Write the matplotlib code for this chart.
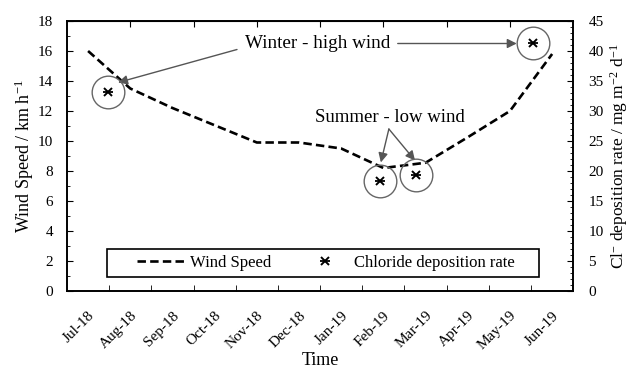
import numpy as np
import matplotlib.pyplot as plt
from matplotlib.ticker import MultipleLocator, FixedLocator
from matplotlib.lines import Line2D
from matplotlib.patches import Rectangle
from matplotlib.legend_handler import HandlerTuple

plt.rcParams['font.family'] = ['Liberation Serif', 'DejaVu Serif']
plt.rcParams['mathtext.fontset'] = 'custom'
plt.rcParams['mathtext.rm'] = 'Liberation Serif'
plt.rcParams['mathtext.it'] = 'Liberation Serif:italic'

# Monthly wind speed (km/h), one value per month
months = ['Jul-18', 'Aug-18', 'Sep-18', 'Oct-18', 'Nov-18', 'Dec-18',
          'Jan-19', 'Feb-19', 'Mar-19', 'Apr-19', 'May-19', 'Jun-19']
wind = [16.0, 13.5, 12.2, 11.05, 9.9, 9.9, 9.5, 8.2, 8.55, 10.25, 12.0, 15.8]

# Chloride deposition samples (position along the month axis, mg m-2 d-1)
cl_pos = [0.97, 7.42, 8.27, 11.04]
cl_rate = [33.2, 18.4, 19.3, 41.4]

x = np.arange(len(months)) + 0.5

fig = plt.figure(figsize=(6.32, 3.75), dpi=100)
ax = fig.add_axes([0.106, 0.224, 0.801, 0.72])
ax2 = ax.twinx()

dash = (0, (3.2, 1.6))
ax.plot(x, wind, color='black', lw=1.9, ls=dash)

# circled points on the right axis
ax2.plot(cl_pos, cl_rate, ls='none', marker='o', ms=23.5, mfc='none',
         mec='#666666', mew=1.0)
ax2.plot(cl_pos, cl_rate, ls='none', marker='x', ms=5.5, color='black', mew=1.4)
ax2.plot(cl_pos, cl_rate, ls='none', marker='_', ms=6.5, color='black', mew=1.3)

ax.set_xlim(0, 12)
ax.set_ylim(0, 18)
ax2.set_ylim(0, 45)

# labels centred on months, tick marks between them
ax.xaxis.set_major_locator(FixedLocator(x))
ax.set_xticklabels(months, rotation=45, ha='right', rotation_mode='anchor')
ax.xaxis.set_minor_locator(FixedLocator(np.arange(1, 12)))
ax.tick_params(axis='x', which='major', length=0, pad=13, labelsize=11)
ax.tick_params(axis='x', which='minor', length=4, direction='in')

ax.yaxis.set_major_locator(MultipleLocator(2))
ax.yaxis.set_minor_locator(MultipleLocator(1))
ax.tick_params(axis='y', which='major', length=4, direction='in', labelsize=11, pad=10)
ax.tick_params(axis='y', which='minor', length=2.5, direction='in')

ax2.yaxis.set_major_locator(MultipleLocator(5))
ax2.yaxis.set_minor_locator(MultipleLocator(1))
ax2.tick_params(axis='y', which='major', length=4, direction='in', labelsize=11, pad=11)
ax2.tick_params(axis='y', which='minor', length=2.5, direction='in')

top = ax.secondary_xaxis('top')
top.set_xticks(np.arange(1.5, 11, 1.5))
top.set_xticklabels([])
top.tick_params(axis='x', length=4, direction='in')

for a in (ax, ax2):
    for s in a.spines.values():
        s.set_linewidth(1.2)

ax.set_ylabel('Wind Speed / km h$^{\\mathregular{-1}}$', fontsize=13, labelpad=1)
ax2.set_ylabel('Cl$^{\\mathregular{-}}$ deposition rate / mg m$^{\\mathregular{-2}}$ d$^{\\mathregular{-1}}$',
               fontsize=12.5, rotation=90, labelpad=3)
ax.set_xlabel('Time', fontsize=13, labelpad=0)

arrow = dict(arrowstyle='-|>', color='#555555', lw=1.0, mutation_scale=14,
             shrinkA=0, shrinkB=0)
ax.text(5.95, 16.5, 'Winter - high wind', fontsize=13.8, ha='center', va='center')
ax.annotate('', xy=(1.21, 13.9), xytext=(4.03, 16.1), arrowprops=arrow)
ax.annotate('', xy=(10.66, 16.5), xytext=(7.84, 16.5), arrowprops=arrow)
ax.text(7.65, 11.55, 'Summer - low wind', fontsize=13.5, ha='center', va='center')
ax.annotate('', xy=(7.44, 8.57), xytext=(7.63, 10.8), arrowprops=arrow)
ax.annotate('', xy=(8.25, 8.7), xytext=(7.63, 10.8), arrowprops=arrow)

# legend box drawn separately, entries spread inside it
ax.add_patch(Rectangle((0.079, 0.052), 0.854, 0.104, transform=ax.transAxes,
                       fill=True, facecolor='white', edgecolor='black', lw=1.2, zorder=4))
h_wind = Line2D([], [], color='black', lw=1.9, ls=dash)
h_x = Line2D([], [], ls='none', marker='x', ms=5.5, color='black', mew=1.4)
h_bar = Line2D([], [], ls='none', marker='_', ms=6.5, color='black', mew=1.3)
leg = ax.legend([h_wind, (h_x, h_bar)], ['Wind Speed', 'Chloride deposition rate'],
                handler_map={tuple: HandlerTuple(ndivide=1)},
                ncol=2, loc='center', bbox_to_anchor=(0.138, 0.052, 0.747, 0.104),
                mode='expand', fontsize=12, frameon=False, borderpad=0,
                borderaxespad=0, handlelength=2.9, handletextpad=0.3)
leg.set_zorder(5)

fig.savefig('out.png', dpi=100, facecolor='white')
